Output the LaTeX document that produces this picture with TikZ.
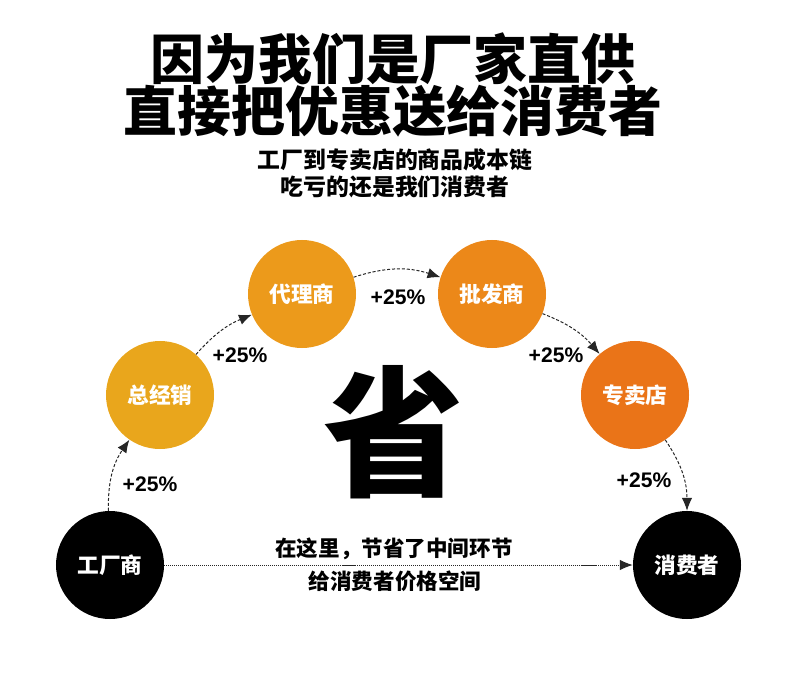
\documentclass[tikz,border=0pt]{standalone}
\usepackage{fontspec}
\usetikzlibrary{arrows.meta,positioning}
\newfontfamily\cjk{Noto Sans CJK SC}
\newfontfamily\latn{Liberation Sans}
\newcommand{\mysize}{3.24cm}
\definecolor{zjxcol}{RGB}{233,166,28}
\definecolor{dlscol}{RGB}{236,154,27}
\definecolor{pfscol}{RGB}{236,136,25}
\definecolor{zmdcol}{RGB}{234,116,24}
\tikzset{
    circsty/.style={circle,minimum size=\mysize,inner sep=0pt,text=white,font=\cjk\bfseries\fontsize{18.5}{20}\selectfont},
    blksty/.style={circsty,fill=black},
    titlesty/.style={font=\cjk\bfseries\fontsize{46}{50}\selectfont},
    substy/.style={font=\cjk\bfseries\fontsize{19.5}{22}\selectfont},
    botsty/.style={font=\cjk\bfseries\fontsize{18.4}{20}\selectfont},
    bigsty/.style={font=\cjk\bfseries\fontsize{120}{130}\selectfont},
    pctsty/.style={font=\latn\bfseries\fontsize{18}{20}\selectfont},
    arrsty/.style={->,draw=black!85,line width=0.85pt,dash pattern=on 2.6pt off 1.6pt},
    dotsty/.style={->,draw=black!85,line width=0.85pt,dash pattern=on 0.9pt off 0.8pt},
}

\begin{document}
\begin{tikzpicture}[x=0.03cm,y=-0.03cm,>={Latex[length=11pt,width=9pt]}]
\useasboundingbox (0,0) rectangle (790,683);

% headings
\node[titlesty] (t1) at (393,59) {因为我们是厂家直供};
\node[titlesty] (t2) at (393,111) {直接把优惠送给消费者};
\node[substy] (s1) at (395,160) {工厂到专卖店的商品成本链};
\node[substy] (s2) at (395,187) {吃亏的还是我们消费者};

% chain
\node[blksty] (gcs) at (110,565) {工厂商};
\node[circsty,fill=zjxcol] (zjx) at (160,395) {总经销};
\node[circsty,fill=dlscol] (dls) at (302,294) {代理商};
\node[circsty,fill=pfscol] (pfs) at (492,294) {批发商};
\node[circsty,fill=zmdcol] (zmd) at (635,395) {专卖店};
\node[blksty] (xfz) at (687,565) {消费者};

\node[bigsty] (sheng) at (394,432) {省};

\draw[arrsty] (gcs) to[bend left=18] (zjx);
\draw[arrsty] (zjx) to[bend left=13] (dls);
\draw[arrsty] (dls) to[bend left=18] (pfs);
\draw[arrsty] (pfs) to[bend left=14] (zmd);
\draw[arrsty] (zmd) to[bend left=17] (xfz);
\draw[dotsty] (gcs) -- (xfz);

\node[pctsty] (p1) at (150,484) {+25\%};
\node[pctsty] (p2) at (240,355) {+25\%};
\node[pctsty] (p3) at (398,297) {+25\%};
\node[pctsty] (p4) at (556,355) {+25\%};
\node[pctsty] (p5) at (644,480) {+25\%};

\node[botsty] (b1) at (394,549) {在这里，节省了中间环节};
\node[botsty] (b2) at (395,581) {给消费者价格空间};
\end{tikzpicture}
\end{document}
